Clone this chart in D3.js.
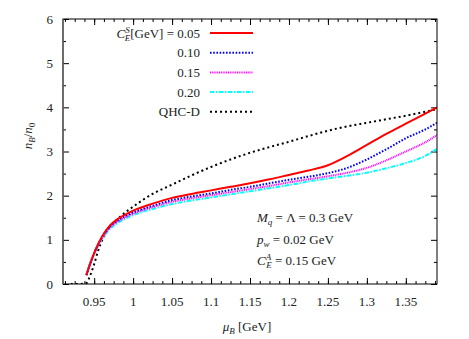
<!DOCTYPE html>
<html>
<head>
<meta charset="utf-8">
<script src="https://cdn.jsdelivr.net/npm/d3@7"></script>
<style>
  body { margin: 0; background: #fff; }
</style>
</head>
<body>
<div id="chart"></div>
<script>
// chemical potential grid (GeV) shared by the C_E^S curves
const muGrid = [0.94, 0.945, 0.95, 0.955, 0.96, 0.97, 0.98, 0.99, 1.0, 1.025, 1.05, 1.075, 1.1,
	1.125, 1.15, 1.175, 1.2, 1.225, 1.25, 1.275, 1.3, 1.325, 1.35, 1.375, 1.39];

const ce005 = [0.2, 0.47, 0.7, 0.9, 1.07, 1.32, 1.47, 1.57, 1.66, 1.82, 1.95, 2.04, 2.12,
	2.2, 2.28, 2.37, 2.47, 2.57, 2.69, 2.9, 3.15, 3.4, 3.63, 3.86, 4.0];
const ce010 = [0.2, 0.47, 0.7, 0.89, 1.06, 1.3, 1.44, 1.54, 1.62, 1.77, 1.9, 1.98, 2.05,
	2.13, 2.2, 2.28, 2.36, 2.43, 2.51, 2.63, 2.82, 3.05, 3.3, 3.5, 3.65];
const ce015 = [0.2, 0.46, 0.69, 0.88, 1.04, 1.27, 1.41, 1.51, 1.59, 1.74, 1.86, 1.94, 2.01,
	2.08, 2.15, 2.22, 2.3, 2.37, 2.44, 2.52, 2.63, 2.8, 3.0, 3.21, 3.37];
const ce020 = [0.2, 0.45, 0.68, 0.86, 1.02, 1.24, 1.38, 1.48, 1.56, 1.7, 1.81, 1.89, 1.96,
	2.03, 2.1, 2.17, 2.24, 2.32, 2.39, 2.45, 2.52, 2.62, 2.74, 2.9, 3.06];

// QHC-D curve has its own grid
const muQhc = [0.92, 0.93, 0.94, 0.945, 0.95, 0.955, 0.96, 0.965, 0.97, 0.98, 0.99, 1.0, 1.025,
	1.05, 1.075, 1.1, 1.125, 1.15, 1.175, 1.2, 1.225, 1.25, 1.275, 1.3, 1.325, 1.35, 1.375, 1.39];
const qhcD = [0, 0, 0.02, 0.2, 0.45, 0.75, 0.98, 1.15, 1.29, 1.47, 1.62, 1.75, 2.04,
	2.25, 2.46, 2.65, 2.82, 2.97, 3.1, 3.22, 3.35, 3.47, 3.57, 3.65, 3.73, 3.81, 3.9, 3.96];

const legendLabels = ["0.05", "0.10", "0.15", "0.20", "QHC-D"];
const xTickValues = [0.95, 1, 1.05, 1.1, 1.15, 1.2, 1.25, 1.3, 1.35];
const yTickValues = [0, 1, 2, 3, 4, 5, 6];

const width = 469;
const height = 339;
const margin = { top: 19, right: 32, bottom: 55, left: 63 };
const serif = "'Liberation Serif', 'DejaVu Serif', serif";

const svg = d3
	.select("#chart")
	.append("svg")
	.attr("width", width)
	.attr("height", height)
	.attr("font-family", serif)
	.style("font-family", serif);

const x = d3.scaleLinear().domain([0.91, 1.39]).range([margin.left, width - margin.right]);
const y = d3.scaleLinear().domain([0, 6]).range([height - margin.bottom, margin.top]);

// minor + major ticks on all four sides, pointing inward
function drawTicks(axisFn, scale, values, size, transform) {
	svg
		.append("g")
		.attr("transform", transform)
		.call(axisFn(scale).tickValues(values).tickSize(size).tickFormat(""))
		.call((g) => g.select(".domain").remove())
		.call((g) => g.selectAll("line").attr("stroke", "#000"));
}

const xMinor = d3.range(0.9125, 1.39, 0.0125);
const yMinor = d3.range(0.5, 6, 1);
const bottom = height - margin.bottom;
const right = width - margin.right;

drawTicks(d3.axisBottom, x, xTickValues, -6, `translate(0,${bottom})`);
drawTicks(d3.axisBottom, x, xMinor, -3, `translate(0,${bottom})`);
drawTicks(d3.axisTop, x, xTickValues, -6, `translate(0,${margin.top})`);
drawTicks(d3.axisTop, x, xMinor, -3, `translate(0,${margin.top})`);
drawTicks(d3.axisLeft, y, yTickValues, -6, `translate(${margin.left},0)`);
drawTicks(d3.axisLeft, y, yMinor, -3, `translate(${margin.left},0)`);
drawTicks(d3.axisRight, y, yTickValues, -6, `translate(${right},0)`);
drawTicks(d3.axisRight, y, yMinor, -3, `translate(${right},0)`);

// tick labels
svg
	.append("g")
	.selectAll("text")
	.data(xTickValues)
	.enter()
	.append("text")
	.attr("x", (d) => x(d))
	.attr("y", bottom + 22)
	.attr("text-anchor", "middle")
	.attr("fill", "#222")
	.style("font-size", "13px")
	.text((d) => d);

svg
	.append("g")
	.selectAll("text")
	.data(yTickValues)
	.enter()
	.append("text")
	.attr("x", margin.left - 10)
	.attr("y", (d) => y(d) + 4.5)
	.attr("text-anchor", "end")
	.attr("fill", "#222")
	.style("font-size", "13px")
	.text((d) => d);

// curves
const series = [
	{ mu: muGrid, v: ce005, color: "#ff0000", dash: null },
	{ mu: muGrid, v: ce010, color: "#0000ff", dash: "1.6,1.6" },
	{ mu: muGrid, v: ce015, color: "#ff00ff", dash: "1,0.8" },
	{ mu: muGrid, v: ce020, color: "#00ffff", dash: "4.5,1.5,1.5,1.5" },
	{ mu: muQhc, v: qhcD, color: "#000000", dash: "2,3" },
];

const line = d3
	.line()
	.x((d) => x(d[0]))
	.y((d) => y(d[1]))
	.curve(d3.curveMonotoneX);

svg
	.append("defs")
	.append("clipPath")
	.attr("id", "plotclip")
	.append("rect")
	.attr("x", margin.left)
	.attr("y", margin.top)
	.attr("width", right - margin.left)
	.attr("height", bottom - margin.top);

const plot = svg.append("g").attr("clip-path", "url(#plotclip)");

// draw back to front so red sits on top like the original
series
	.slice()
	.reverse()
	.forEach((s) => {
		plot
			.append("path")
			.datum(d3.zip(s.mu, s.v))
			.attr("fill", "none")
			.attr("stroke", s.color)
			.attr("stroke-width", 2)
			.attr("stroke-dasharray", s.dash)
			.attr("d", line);
	});

// frame
svg
	.append("rect")
	.attr("x", margin.left)
	.attr("y", margin.top)
	.attr("width", right - margin.left)
	.attr("height", bottom - margin.top)
	.attr("fill", "none")
	.attr("stroke", "#000")
	.attr("stroke-width", 1);
svg
	.append("line")
	.attr("x1", margin.left)
	.attr("x2", margin.left)
	.attr("y1", margin.top)
	.attr("y2", bottom)
	.attr("stroke", "#666")
	.attr("stroke-width", 1.5);

// legend
const legend = svg.append("g").attr("transform", "translate(200, 33)");

series.forEach((s, i) => {
	const row = legend.append("g").attr("transform", `translate(0, ${i * 19.7})`);
	row
		.append("line")
		.attr("x1", 10)
		.attr("x2", 53)
		.attr("y1", 0)
		.attr("y2", 0)
		.attr("stroke", s.color)
		.attr("stroke-width", 2)
		.attr("stroke-dasharray", s.dash);

	const t = row
		.append("text")
		.attr("x", 0)
		.attr("y", 4.5)
		.attr("text-anchor", "end")
		.attr("fill", "#222")
		.style("font-size", "13px");

	if (i === 0) {
		t.append("tspan").style("font-style", "italic").text("C");
		t.append("tspan").attr("dy", -5).style("font-size", "9px").style("font-style", "italic").text("S");
		t.append("tspan").attr("dx", -5).attr("dy", 8).style("font-size", "9px").style("font-style", "italic").text("E");
		t.append("tspan").attr("dy", -3).text(`[GeV] = ${legendLabels[i]}`);
	} else {
		t.text(legendLabels[i]);
	}
});

// parameter annotations
function mathLine(yPos, parts) {
	const t = svg
		.append("text")
		.attr("x", 257)
		.attr("y", yPos)
		.attr("fill", "#222")
		.style("font-size", "13px");
	parts.forEach((p) => {
		const ts = t.append("tspan").text(p.t);
		if (p.i) ts.style("font-style", "italic");
		if (p.s) ts.style("font-size", "9px");
		if (p.dy) ts.attr("dy", p.dy);
		if (p.dx) ts.attr("dx", p.dx);
	});
}

mathLine(222, [
	{ t: "M", i: true },
	{ t: "q", i: true, s: true, dy: 3 },
	{ t: " = Λ = 0.3 GeV", dy: -3 },
]);
mathLine(244, [
	{ t: "p", i: true },
	{ t: "w", i: true, s: true, dy: 3 },
	{ t: " = 0.02 GeV", dy: -3 },
]);
mathLine(265, [
	{ t: "C", i: true },
	{ t: "A", i: true, s: true, dy: -5 },
	{ t: "E", i: true, s: true, dx: -5, dy: 8 },
	{ t: " = 0.15 GeV", dy: -3 },
]);

// axis labels
const xLabel = svg
	.append("text")
	.attr("x", 247)
	.attr("y", 331)
	.attr("text-anchor", "middle")
	.attr("fill", "#222")
	.style("font-size", "13px");
xLabel.append("tspan").style("font-style", "italic").text("μ");
xLabel.append("tspan").attr("dy", 3).style("font-size", "9px").style("font-style", "italic").text("B");
xLabel.append("tspan").attr("dy", -3).text(" [GeV]");

const yLabel = svg
	.append("text")
	.attr("transform", "rotate(-90)")
	.attr("x", -136)
	.attr("y", 32)
	.attr("text-anchor", "middle")
	.attr("fill", "#222")
	.style("font-size", "13px");
yLabel.append("tspan").style("font-style", "italic").text("n");
yLabel.append("tspan").attr("dy", 3).style("font-size", "9px").style("font-style", "italic").text("B");
yLabel.append("tspan").attr("dy", -3).text("/");
yLabel.append("tspan").style("font-style", "italic").text("n");
yLabel.append("tspan").attr("dy", 3).style("font-size", "9px").text("0");
</script>
</body>
</html>
